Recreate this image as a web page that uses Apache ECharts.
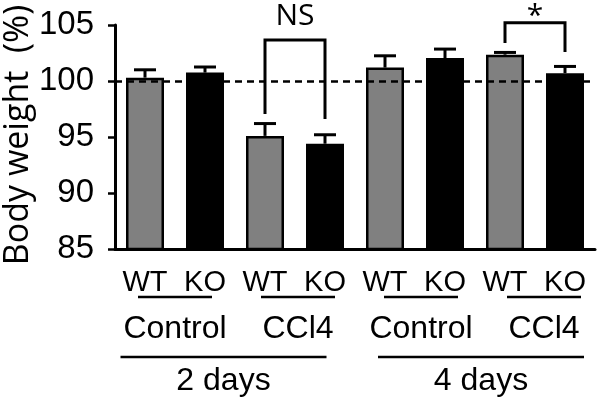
<!DOCTYPE html>
<html><head><meta charset="utf-8">
<script src="https://cdn.jsdelivr.net/npm/echarts@6/dist/echarts.min.js"></script>
<style>html,body{margin:0;padding:0;background:#fff}#c{width:603px;height:403px}</style>
</head><body><div id="c"></div>
<script>
// ---- data ----
const categories = ['2d-Control-WT','2d-Control-KO','2d-CCl4-WT','2d-CCl4-KO','4d-Control-WT','4d-Control-KO','4d-CCl4-WT','4d-CCl4-KO'];
const genotypeLabels = ['WT','KO','WT','KO','WT','KO','WT','KO'];
const meanValues = [100.3, 100.75, 95.1, 94.4, 101.2, 102.05, 102.35, 100.7];
const errorUpper = [101.0, 101.25, 96.2, 95.2, 102.25, 102.85, 102.55, 101.3];
const treatmentGroups = ['Control','CCl4','Control','CCl4'];
const timeGroups = ['2 days','4 days'];
const yTicks = [85, 90, 95, 100, 105];
const yAxisTitle = 'Body weight  (%)';
const referenceLevel = 100;
const comparisonLabels = ['NS','*'];
const comparisonPairs = [[2,3],[6,7]];
const comparisonTop = [103.65, 105.2];
const comparisonLegEnds = [[97.05, 96.6],[103.4, 102.6]];

// ---- chart ----
const chart = echarts.init(document.getElementById('c'), null, {renderer:'canvas'});
const FONT = '"Liberation Sans", Arial, sans-serif';
const HFONT = '"Open Sans", "Noto Sans", sans-serif';
const isWT = genotypeLabels.map(l => l === 'WT');

const option = {
  animation: false,
  backgroundColor: '#fff',
  grid: {left: 115, right: 8, top: 25, bottom: 154, containLabel: false, outerBoundsMode: 'none'},
  xAxis: {
    type: 'category', data: categories,
    axisLine: {lineStyle: {color: '#000', width: 3}},
    axisTick: {alignWithLabel: true, length: 5, lineStyle: {color: '#000', width: 2.5}},
    axisLabel: {color: '#000', fontFamily: FONT, fontSize: 29, margin: 19, interval: 0, hideOverlap: false,
      formatter: (v, i) => genotypeLabels[i]},
    splitLine: {show: false}
  },
  yAxis: {
    type: 'value', min: yTicks[0], max: yTicks[yTicks.length-1], interval: yTicks[1]-yTicks[0],
    axisLine: {show: true, lineStyle: {color: '#000', width: 3}},
    axisTick: {show: true, length: 7, lineStyle: {color: '#000', width: 2.5}},
    axisLabel: {color: '#000', fontFamily: FONT, fontSize: 33, margin: 21},
    splitLine: {show: false}
  },
  series: [
    {
      type: 'line', data: [], z: 1, silent: true,
      markLine: {
        silent: true, symbol: 'none', label: {show: false},
        lineStyle: {color: '#000', type: [7, 5], width: 2.5},
        data: [{yAxis: referenceLevel}]
      }
    },
    {
      type: 'bar', z: 3, barWidth: 38,
      data: meanValues.map((v, i) => ({
        value: v,
        itemStyle: {color: isWT[i] ? '#808080' : '#000', borderColor: '#000', borderWidth: 2.5}
      }))
    },
    {
      type: 'custom', z: 4,
      data: meanValues.map((v, i) => [i, v, errorUpper[i]]),
      renderItem: (params, api) => {
        const i = api.value(0);
        const b = api.coord([i, api.value(1)]);
        const t = api.coord([i, api.value(2)]);
        const half = 11;
        return {type: 'group', children: [
          {type: 'line', shape: {x1: b[0], y1: b[1], x2: t[0], y2: t[1]}, style: {stroke: '#000', lineWidth: 3}},
          {type: 'line', shape: {x1: t[0]-half, y1: t[1], x2: t[0]+half, y2: t[1]}, style: {stroke: '#000', lineWidth: 3}}
        ]};
      }
    }
  ]
};
chart.setOption(option);

// ---- annotations positioned from the axes ----
function px(i, v) { return chart.convertToPixel({xAxisIndex: 0, yAxisIndex: 0}, [i, v]); }
const g = [];
const lineStyle = {stroke: '#000', lineWidth: 2.5};
// y-axis title
const yMid = (px(0, yTicks[0])[1] + px(0, yTicks[yTicks.length-1])[1]) / 2 - 2;
g.push({type: 'text', x: 18, y: yMid, rotation: Math.PI / 2,
  style: {text: yAxisTitle, font: '34px ' + HFONT, fill: '#000', textAlign: 'center', textVerticalAlign: 'middle'}});
// treatment groups (pairs of bars)
treatmentGroups.forEach((name, k) => {
  const a = px(2*k, yTicks[0])[0], b = px(2*k+1, yTicks[0])[0];
  const shift = 3 * k;
  const cx = (a + b) / 2 + shift;
  g.push({type: 'line', shape: {x1: a - 7 + shift, y1: 297, x2: b + 7 + shift, y2: 297}, style: lineStyle});
  g.push({type: 'text', x: cx, y: 329, style: {text: name, font: '32px ' + FONT, fill: '#000', textAlign: 'center', textVerticalAlign: 'middle'}});
});
// time groups
const timeShift = [-11.5, 6];
timeGroups.forEach((name, k) => {
  const a = px(4*k, yTicks[0])[0], b = px(4*k+3, yTicks[0])[0];
  const cx = (a + b) / 2 + timeShift[k];
  g.push({type: 'line', shape: {x1: cx - 103, y1: 357, x2: cx + 103, y2: 357}, style: lineStyle});
  g.push({type: 'text', x: cx, y: 381, style: {text: name, font: '32px ' + FONT, fill: '#000', textAlign: 'center', textVerticalAlign: 'middle'}});
});
// significance brackets
comparisonPairs.forEach((pair, k) => {
  const l = px(pair[0], comparisonTop[k]);
  const r = px(pair[1], comparisonTop[k]);
  const lb = px(pair[0], comparisonLegEnds[k][0]);
  const rb = px(pair[1], comparisonLegEnds[k][1]);
  g.push({type: 'polyline', shape: {points: [[lb[0], lb[1]], [l[0], l[1]], [r[0], r[1]], [rb[0], rb[1]]]},
    style: {stroke: '#000', lineWidth: 3, fill: null}});
  const isStar = comparisonLabels[k] === '*';
  g.push({type: 'text', x: (l[0] + r[0]) / 2, y: l[1] + (isStar ? 9 : -8.5),
    style: {text: comparisonLabels[k], font: '30px ' + HFONT, fill: '#000', textAlign: 'center', textVerticalAlign: 'bottom'}});
});
chart.setOption({graphic: {elements: g}});
</script>
</body></html>
